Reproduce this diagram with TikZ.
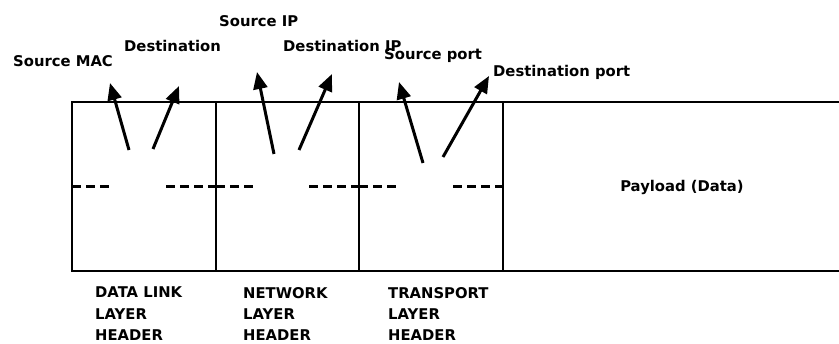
\documentclass[tikz,border=0pt]{standalone}
\usepackage{fontspec}
\setmainfont{DejaVu Sans}
\usetikzlibrary{arrows.meta}

\begin{document}
\begin{tikzpicture}[x=1pt,y=-1pt,every node/.style={inner sep=0pt,font=\bfseries\fontsize{14.8}{21.3}\selectfont},
frame/.style={line width=2pt},
field/.style={line width=3pt,dash pattern=on 9pt off 5pt},
pointer/.style={line width=3pt,-{Triangle[length=17pt,width=14pt]}}]
\useasboundingbox (0,0) rectangle (839,344);
% frame of the packet
\draw[frame] (839,102) -- (72,102) -- (72,271) -- (839,271);
\foreach \x in {216,359,503} \draw[frame] (\x,102) -- (\x,271);
% header fields
\foreach \l/\r in {72/216,216/359,359/503}{
  \draw[field] (\l,187) -- (\l+38,187);
  \draw[field] (\r-50,187) -- (\r,187);}
\node (payload) at (682,187) {Payload (Data)};
% labels on top
\node[anchor=west] (srcmac) at (13,61) {Source MAC};
\node[anchor=west] (dstmac) at (124,46) {Destination};
\node[anchor=west] (srcip) at (219,21.5) {Source IP};
\node[anchor=west] (dstip) at (283,45.5) {Destination IP};
\node[anchor=west] (srcport) at (384,56) {Source port};
\node[anchor=west] (dstport) at (493,72.5) {Destination port};
% arrows
\coordinate (t1) at (129,150); \coordinate (h1) at (110,83);
\coordinate (t2) at (153,149); \coordinate (h2) at (179,86);
\coordinate (t3) at (274,154); \coordinate (h3) at (257,72);
\coordinate (t4) at (299,150); \coordinate (h4) at (332,74);
\coordinate (t5) at (423,163); \coordinate (h5) at (399,82);
\coordinate (t6) at (443,157); \coordinate (h6) at (489,76);
\foreach \i in {1,...,6} \draw[pointer] (t\i) -- (h\i);
% layer names
\node[anchor=north west,align=left] (dll) at (95,287) {DATA LINK\\LAYER\\HEADER};
\node[anchor=north west,align=left] (nwl) at (243,287) {NETWORK\\LAYER\\HEADER};
\node[anchor=north west,align=left] (trl) at (388,287) {TRANSPORT\\LAYER\\HEADER};
\end{tikzpicture}
\end{document}
